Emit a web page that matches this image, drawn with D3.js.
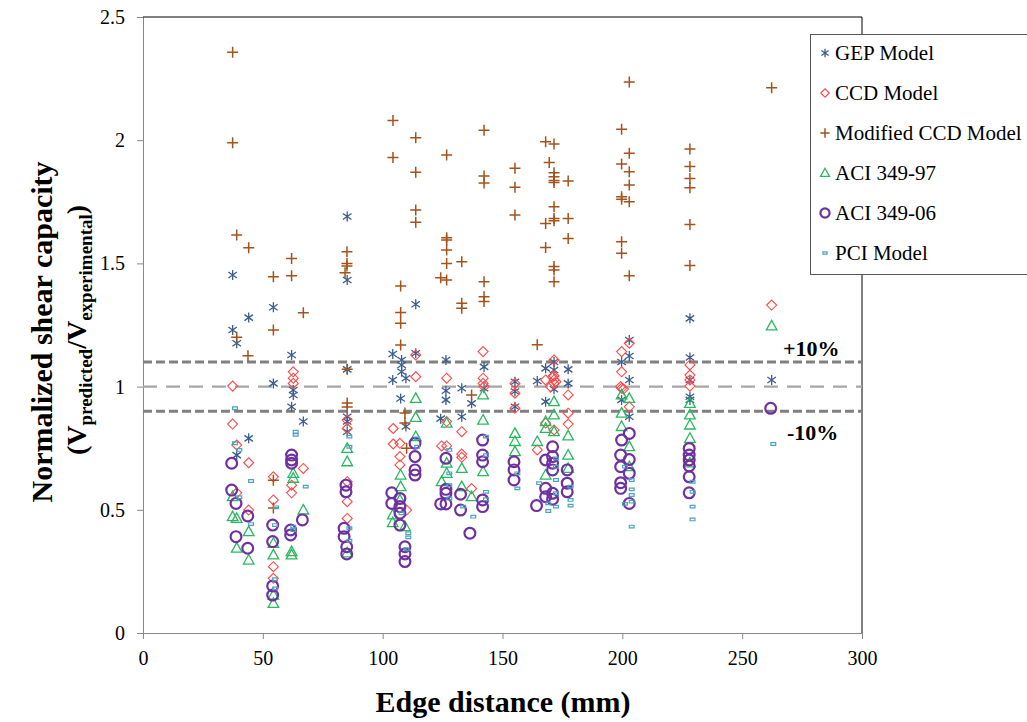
<!DOCTYPE html>
<html>
<head>
<meta charset="utf-8">
<script src="https://cdn.jsdelivr.net/npm/d3@7"></script>
<style>
  body { margin: 0; background: #fff; }
  svg, svg text { font-family: "Liberation Serif", "Times New Roman", serif; }
</style>
</head>
<body>
<div id="app"></div>
<script>
// series: [edge distance (mm), normalized shear capacity]
const gepModel = [[37.4,1.453],[54.4,1.322],[44.1,1.28],[37.4,1.23],[39.1,1.176],[62.0,1.128],[54.4,1.013],[62.7,0.986],[62.7,0.966],[62.0,0.918],[66.9,0.858],[44.1,0.79],[39.1,0.722],[85.2,1.69],[85.2,1.433],[113.8,1.334],[85.2,1.07],[85.2,0.878],[85.2,0.858],[85.2,0.817],[104.2,1.132],[107.9,1.108],[107.9,1.088],[107.9,1.06],[104.2,1.027],[109.7,1.034],[107.5,0.952],[113.8,1.135],[109.7,0.838],[126.4,1.108],[126.4,0.983],[126.4,0.946],[124.2,0.87],[133.0,0.993],[133.0,0.878],[137.1,0.932],[142.3,1.08],[142.3,0.993],[155.2,1.02],[155.2,0.98],[155.2,0.918],[164.5,1.023],[168.0,1.074],[171.5,1.10],[171.5,1.067],[171.5,0.989],[168.0,0.939],[177.4,1.07],[177.4,1.013],[202.9,1.189],[202.9,1.124],[199.7,1.10],[202.9,1.027],[199.7,0.946],[202.9,0.878],[228.2,1.277],[228.2,1.118],[228.2,1.027],[228.2,0.959],[228.2,0.946],[262.3,1.027]];

const ccdModel = [[37.4,1.002],[37.4,0.848],[39.1,0.763],[44.1,0.691],[39.1,0.569],[44.1,0.499],[62.7,1.06],[62.7,1.034],[62.7,1.013],[66.9,0.668],[62.0,0.60],[62.0,0.569],[54.4,0.634],[54.4,0.54],[54.4,0.269],[54.4,0.222],[85.2,0.864],[85.2,0.83],[85.2,0.614],[85.2,0.533],[85.2,0.465],[104.4,0.83],[104.4,0.767],[107.2,0.77],[107.2,0.716],[107.2,0.682],[110.0,0.499],[113.8,1.128],[113.8,1.04],[126.7,1.034],[124.6,0.759],[126.7,0.759],[126.7,0.858],[133.0,0.817],[133.0,0.726],[133.0,0.713],[137.1,0.586],[141.9,1.142],[141.9,1.034],[141.9,1.013],[142.3,1.0],[155.2,1.013],[155.2,0.973],[155.2,0.912],[164.5,0.743],[168.0,1.027],[171.5,1.108],[171.5,1.043],[171.5,1.027],[171.5,1.013],[170.9,1.04],[172.3,1.02],[170.0,1.0],[168.0,0.852],[171.5,0.824],[177.4,0.966],[177.4,0.892],[177.4,0.848],[202.9,1.176],[199.7,1.142],[199.7,1.06],[199.7,0.993],[199.3,1.0],[200.5,0.99],[202.9,0.918],[228.2,1.088],[228.2,1.047],[228.2,1.027],[228.2,1.002],[262.3,1.331]];

const modifiedCcd = [[37.4,2.357],[37.4,1.99],[39.1,1.615],[44.1,1.564],[62.0,1.52],[54.4,1.446],[62.0,1.45],[66.9,1.30],[39.1,1.20],[43.8,1.125],[54.4,1.23],[54.4,0.62],[54.4,0.507],[104.3,2.08],[113.8,2.01],[104.3,1.93],[113.8,1.87],[126.7,1.94],[142.3,2.04],[142.3,1.855],[142.3,1.826],[85.1,1.547],[85.1,1.50],[85.1,1.489],[84.3,1.462],[113.8,1.717],[113.8,1.667],[126.7,1.604],[126.7,1.595],[126.7,1.554],[126.7,1.50],[133.0,1.507],[124.2,1.442],[126.7,1.433],[142.3,1.426],[142.3,1.365],[142.3,1.345],[107.5,1.408],[107.5,1.301],[107.5,1.257],[133.0,1.338],[133.0,1.318],[107.5,1.169],[85.2,1.07],[85.2,0.933],[85.2,0.917],[109.3,0.893],[109.3,0.852],[110.0,0.75],[137.1,0.966],[155.2,1.886],[155.2,1.809],[155.2,1.696],[168.0,1.994],[171.5,1.985],[169.5,1.91],[171.5,1.868],[171.5,1.852],[171.5,1.836],[171.5,1.828],[177.4,1.834],[171.5,1.730],[171.5,1.682],[171.5,1.673],[168.0,1.662],[177.4,1.682],[177.4,1.601],[168.0,1.565],[171.5,1.487],[171.5,1.473],[171.5,1.426],[199.7,2.044],[202.9,1.947],[199.7,1.903],[202.9,1.872],[202.9,1.818],[199.7,1.771],[199.7,1.760],[202.9,1.75],[199.7,1.588],[199.7,1.541],[202.9,1.45],[202.9,2.236],[228.2,1.964],[228.2,1.893],[228.2,1.845],[228.2,1.807],[228.2,1.658],[228.2,1.491],[262.3,2.213],[164.5,1.17]];

const aci97 = [[37.4,0.553],[37.4,0.472],[39.1,0.465],[39.1,0.344],[44.1,0.411],[44.1,0.296],[54.4,0.364],[54.4,0.317],[54.4,0.154],[54.4,0.12],[62.7,0.648],[62.7,0.628],[62.0,0.33],[62.0,0.317],[66.9,0.499],[85.2,0.749],[85.2,0.695],[85.2,0.325],[107.5,0.641],[107.5,0.594],[104.2,0.479],[104.2,0.448],[107.2,0.54],[109.3,0.432],[113.8,0.952],[113.8,0.875],[113.8,0.797],[126.7,0.852],[126.7,0.689],[126.7,0.648],[124.6,0.614],[133.0,0.668],[133.0,0.594],[137.1,0.553],[141.9,0.966],[141.9,0.864],[141.9,0.655],[155.2,0.81],[155.2,0.777],[155.2,0.736],[164.5,0.777],[168.0,0.858],[171.5,0.939],[171.5,0.885],[171.5,0.817],[168.0,0.83],[168.0,0.641],[177.4,0.80],[177.4,0.722],[177.4,0.668],[199.7,0.966],[202.9,0.952],[199.7,0.892],[199.7,0.838],[202.9,0.756],[202.9,0.675],[228.2,0.932],[228.2,0.885],[228.2,0.844],[228.2,0.79],[228.2,0.69],[262.3,1.246]];

const aci06 = [[37.0,0.689],[37.0,0.58],[38.8,0.526],[38.8,0.391],[43.7,0.475],[43.7,0.344],[62.0,0.722],[62.0,0.702],[62.0,0.689],[61.6,0.418],[61.6,0.398],[66.5,0.459],[54.1,0.438],[54.1,0.371],[54.1,0.191],[54.1,0.154],[84.7,0.60],[84.7,0.573],[83.9,0.425],[83.9,0.391],[85.0,0.35],[85.0,0.321],[103.8,0.569],[103.8,0.526],[107.2,0.546],[107.2,0.513],[107.2,0.486],[107.2,0.438],[109.3,0.35],[109.3,0.321],[109.3,0.29],[113.5,0.77],[113.5,0.716],[113.5,0.662],[113.5,0.641],[124.2,0.524],[126.4,0.524],[126.4,0.567],[126.4,0.583],[126.4,0.709],[132.5,0.563],[132.5,0.499],[136.4,0.405],[141.7,0.783],[141.7,0.722],[141.7,0.695],[141.7,0.54],[141.7,0.513],[154.8,0.695],[154.8,0.662],[154.8,0.621],[164.2,0.517],[168.0,0.587],[168.0,0.553],[168.0,0.702],[170.9,0.756],[170.9,0.716],[170.9,0.689],[170.9,0.662],[170.9,0.567],[170.9,0.543],[177.0,0.662],[177.0,0.608],[177.0,0.573],[199.7,0.783],[199.3,0.722],[199.3,0.675],[199.3,0.61],[199.3,0.587],[202.9,0.81],[202.9,0.704],[202.9,0.648],[202.9,0.526],[227.9,0.749],[227.9,0.722],[227.9,0.702],[227.9,0.678],[227.9,0.634],[227.9,0.569],[261.9,0.912]];

const pciModel = [[38.4,0.912],[38.4,0.77],[40.2,0.743],[40.2,0.551],[45.1,0.617],[45.1,0.442],[63.7,0.817],[63.7,0.804],[67.9,0.594],[62.7,0.432],[62.7,0.418],[55.5,0.51],[55.1,0.438],[55.1,0.218],[55.1,0.181],[86.1,0.797],[86.1,0.756],[86.1,0.425],[86.1,0.375],[107.9,0.486],[110.7,0.405],[110.7,0.388],[110.0,0.34],[114.4,0.79],[114.4,0.756],[127.8,0.743],[127.8,0.648],[127.8,0.60],[127.8,0.546],[133.6,0.513],[137.8,0.472],[143.1,0.797],[143.1,0.722],[143.1,0.573],[143.1,0.543],[156.2,0.648],[156.2,0.587],[165.3,0.608],[169.1,0.526],[169.1,0.495],[172.3,0.709],[172.3,0.675],[172.3,0.621],[172.3,0.567],[172.3,0.513],[178.4,0.594],[178.4,0.54],[178.4,0.517],[201.1,0.675],[201.1,0.524],[203.9,0.621],[203.9,0.583],[203.9,0.56],[203.9,0.533],[203.9,0.432],[229.3,0.614],[229.3,0.573],[229.3,0.513],[229.3,0.461],[263.0,0.767]];

const seriesNames = ["GEP Model", "CCD Model", "Modified CCD Model", "ACI 349-97", "ACI 349-06", "PCI Model"];
const xTicks = [0, 50, 100, 150, 200, 250, 300];
const yTicks = [0, 0.5, 1, 1.5, 2, 2.5];
const refLines = [1.1, 1.0, 0.9];

const w = 1027;
const h = 722;
const serif = "'Liberation Serif', 'Times New Roman', serif";

const svg = d3.select("#app").append("svg").attr("width", w).attr("height", h);

const scaleX = d3.scaleLinear().domain([0, 300]).range([143, 862]);
const scaleY = d3.scaleLinear().domain([0, 2.5]).range([633, 17]);

//marker shapes, size = half width
const asterisk = { draw(c, s) { c.moveTo(0, -s); c.lineTo(0, s); c.moveTo(-s * 0.85, -s * 0.6); c.lineTo(s * 0.85, s * 0.6); c.moveTo(-s * 0.85, s * 0.6); c.lineTo(s * 0.85, -s * 0.6); } };
const diamond = { draw(c, s) { c.moveTo(0, -s); c.lineTo(s, 0); c.lineTo(0, s); c.lineTo(-s, 0); c.closePath(); } };
const plus = { draw(c, s) { c.moveTo(0, -s); c.lineTo(0, s); c.moveTo(-s, 0); c.lineTo(s, 0); } };
const triangle = { draw(c, s) { c.moveTo(0, -s * 1.05); c.lineTo(s, s * 0.75); c.lineTo(-s, s * 0.75); c.closePath(); } };
const ring = { draw(c, s) { c.moveTo(s, 0); c.arc(0, 0, s, 0, 2 * Math.PI); } };
const smallRect = { draw(c, s) { c.rect(-s, -s * 0.55, 2 * s, s * 1.1); } };

const styles = [
  { data: gepModel, type: asterisk, size: 5, color: "#3b5d8f", width: 1.3 },
  { data: ccdModel, type: diamond, size: 5, color: "#ff4a4a", width: 1.1 },
  { data: modifiedCcd, type: plus, size: 5.5, color: "#a4521a", width: 1.5 },
  { data: aci97, type: triangle, size: 5.3, color: "#28b95e", width: 1.3 },
  { data: aci06, type: ring, size: 5.4, color: "#7030a0", width: 2.2 },
  { data: pciModel, type: smallRect, size: 2.4, color: "#4ba3be", width: 1.2 }
];

//axes
svg.append("g")
  .attr("transform", "translate(0,633)")
  .call(d3.axisBottom(scaleX).tickValues(xTicks).tickSize(6).tickPadding(12))
  .call(g => g.select(".domain").attr("stroke", "#888"))
  .call(g => g.selectAll(".tick line").attr("stroke", "#888"))
  .call(g => g.selectAll("text").style("font-size", "20px").attr("fill", "#000").style("font-family", serif));

svg.append("g")
  .attr("transform", "translate(143,0)")
  .call(d3.axisLeft(scaleY).tickValues(yTicks).tickFormat(d3.format("")).tickSize(6).tickPadding(12))
  .call(g => g.select(".domain").attr("stroke", "#888"))
  .call(g => g.selectAll(".tick line").attr("stroke", "#888"))
  .call(g => g.selectAll("text").style("font-size", "20px").attr("fill", "#000").style("font-family", serif));

//top and right frame
svg.append("path")
  .attr("d", `M${scaleX(0)},${scaleY(2.5)}H${scaleX(300)}V${scaleY(0)}`)
  .attr("fill", "none")
  .attr("stroke", "#000")
  .attr("stroke-width", 1);

//+-10% reference lines
svg.selectAll(".ref")
  .data(refLines)
  .enter()
  .append("line")
  .attr("x1", scaleX(0))
  .attr("x2", scaleX(300))
  .attr("y1", d => scaleY(d))
  .attr("y2", d => scaleY(d))
  .attr("stroke", d => (d === 1 ? "#a6a6a6" : "#808080"))
  .attr("stroke-width", d => (d === 1 ? 2.2 : 3))
  .attr("stroke-dasharray", d => (d === 1 ? "14,9" : "9,4"));

//points
styles.forEach(s => {
  svg.append("g")
    .selectAll("path")
    .data(s.data)
    .enter()
    .append("path")
    .attr("transform", d => `translate(${scaleX(d[0])},${scaleY(d[1])})`)
    .attr("d", d3.symbol().type(s.type).size(s.size))
    .attr("fill", "none")
    .attr("stroke", s.color)
    .attr("stroke-width", s.width);
});

svg.append("text").attr("x", 783).attr("y", 356).style("font-size", "22px").attr("font-weight", "bold").text("+10%");
svg.append("text").attr("x", 787).attr("y", 440).style("font-size", "22px").attr("font-weight", "bold").text("-10%");

//legend
const legend = svg.append("g");
legend.append("rect")
  .attr("x", 810.5).attr("y", 34.5).attr("width", 230).attr("height", 240)
  .attr("fill", "#fff").attr("stroke", "#555");

const rowY = d3.scalePoint().domain(seriesNames).range([53, 253]);
seriesNames.forEach((name, i) => {
  const s = styles[i];
  legend.append("path")
    .attr("transform", `translate(825,${rowY(name)})`)
    .attr("d", d3.symbol().type(s.type).size(s.size * 0.85))
    .attr("fill", "none")
    .attr("stroke", s.color)
    .attr("stroke-width", s.width);
  legend.append("text")
    .attr("x", 835)
    .attr("y", rowY(name) + 7)
    .style("font-size", "21px")
    .text(name);
});

//axis titles
svg.append("text")
  .attr("x", 503).attr("y", 712)
  .attr("text-anchor", "middle")
  .style("font-size", "30px").attr("font-weight", "bold")
  .text("Edge distance (mm)");

svg.append("text")
  .attr("transform", "translate(52,332) rotate(-90)")
  .attr("text-anchor", "middle")
  .style("font-size", "30px").attr("font-weight", "bold")
  .text("Normalized  shear capacity");

const line2 = svg.append("text")
  .attr("transform", "translate(86,330) rotate(-90)")
  .attr("text-anchor", "middle")
  .style("font-size", "28px").attr("font-weight", "bold");
line2.append("tspan").text("(V");
line2.append("tspan").style("font-size", "19px").attr("dy", 6).text("predicted");
line2.append("tspan").attr("dy", -6).text("/V");
line2.append("tspan").style("font-size", "19px").attr("dy", 6).text("experimental");
line2.append("tspan").attr("dy", -6).text(")");
</script>
</body>
</html>
